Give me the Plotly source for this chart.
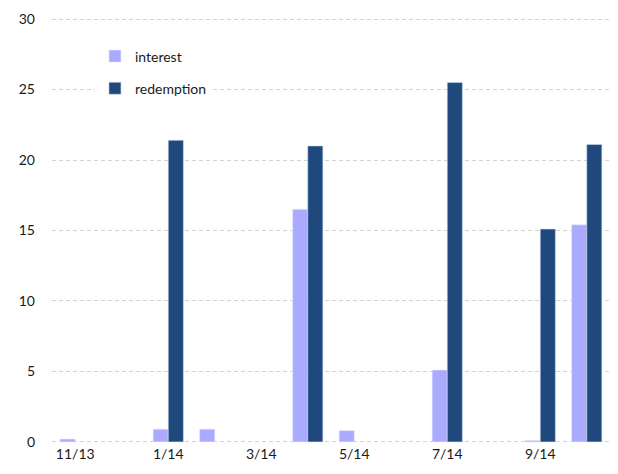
import plotly.graph_objects as go

months = ["11/13", "12/13", "1/14", "2/14", "3/14", "4/14",
          "5/14", "6/14", "7/14", "8/14", "9/14", "10/14"]
interest = [0.2, None, 0.9, 0.9, None, 16.5, 0.8, None, 5.1, None, 0.1, 15.4]
redemption = [None, None, 21.4, None, None, 21.0, None, None, 25.5, None, 15.1, 21.1]
tick_months = ["11/13", "1/14", "3/14", "5/14", "7/14", "9/14"]
y_ticks = [0, 5, 10, 15, 20, 25, 30]

font_family = "Lato, 'Liberation Sans', sans-serif"
text_color = "#1A1A1A"

fig = go.Figure()
fig.add_trace(go.Bar(
    x=months, y=interest, name="interest", legendgroup="a",
    marker=dict(color="#AAAAFF", line=dict(width=0.6, color="#E6E6FF")),
))
fig.add_trace(go.Bar(
    x=months, y=redemption, name="redemption", legendgroup="b",
    marker=dict(color="#1F497D", line=dict(width=0.6, color="#C9D6E8")),
))

fig.update_layout(
    width=618, height=474,
    margin=dict(l=52, r=8, t=17, b=30),
    paper_bgcolor="white", plot_bgcolor="white",
    barmode="group", bargap=0.35, bargroupgap=0,
    font=dict(family=font_family, size=14, color=text_color),
    showlegend=True,
    legend=dict(
        x=0.077, y=0.945, xanchor="left", yanchor="top",
        bgcolor="white", tracegroupgap=11,
        font=dict(size=14, color=text_color),
    ),
    xaxis=dict(
        type="category", categoryorder="array", categoryarray=months,
        tickvals=tick_months, ticktext=tick_months,
        showgrid=False, showline=False, ticks="", zeroline=False,
        tickfont=dict(size=14, color=text_color),
    ),
    yaxis=dict(
        range=[-0.15, 30.15], tickvals=y_ticks,
        showgrid=True, gridcolor="#D4D4D4", griddash="4px,3px", gridwidth=1,
        zeroline=False, showline=False, ticks="",
        ticklabelstandoff=16,
        tickfont=dict(size=14, color=text_color),
    ),
)

fig.write_html("out.html")
